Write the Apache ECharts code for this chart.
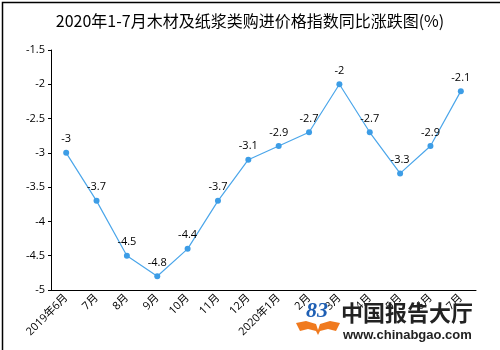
<!DOCTYPE html>
<html>
<head>
<meta charset="utf-8">
<script src="https://cdn.jsdelivr.net/npm/echarts@6/dist/echarts.min.js"></script>
<style>
html,body{margin:0;padding:0;background:#fff;}
#chart{width:500px;height:350px;}
</style>
</head>
<body>
<div id="chart"></div>
<script>
// Month labels along the category axis
var months = ['2019年6月','7月','8月','9月','10月','11月','12月','2020年1月','2月','3月','4月','5月','6月','7月'];
// Year-on-year change of the purchase price index, wood & pulp (%)
var changes = [-3, -3.7, -4.5, -4.8, -4.4, -3.7, -3.1, -2.9, -2.7, -2, -2.7, -3.3, -2.9, -2.1];
// Value axis range
var yMin = -5, yMax = -1.5, yStep = 0.5;

var font = '"Segoe UI","Open Sans","Noto Sans CJK SC",sans-serif';
var chart = echarts.init(document.getElementById('chart'));
chart.setOption({
  backgroundColor: '#fff',
  animation: false,
  title: {
    text: '2020年1-7月木材及纸浆类购进价格指数同比涨跌图(%)',
    left: 'center',
    top: 8,
    textStyle: { fontSize: 16, fontWeight: 'normal', color: '#000', fontFamily: '"Noto Sans CJK SC",sans-serif' }
  },
  grid: { left: 51, right: 24, top: 50, bottom: 60 },
  xAxis: {
    type: 'category',
    data: months,
    boundaryGap: true,
    axisLine: { lineStyle: { color: '#000', width: 1 } },
    axisTick: { alignWithLabel: true, length: 4, lineStyle: { color: '#000' } },
    axisLabel: { rotate: 45, color: '#000', fontSize: 11, interval: 0, margin: 6, fontFamily: font }
  },
  yAxis: {
    type: 'value',
    min: yMin, max: yMax, interval: yStep,
    axisLine: { show: true, lineStyle: { color: '#000', width: 1 } },
    axisTick: { show: true, length: 3, lineStyle: { color: '#000' } },
    splitLine: { show: false },
    axisLabel: { color: '#000', fontSize: 11, margin: 6, fontFamily: font }
  },
  series: [{
    type: 'line',
    data: changes,
    symbol: 'circle',
    symbolSize: 6,
    lineStyle: { color: '#4BA6EA', width: 1.2 },
    itemStyle: { color: '#3D9DE6' },
    label: { show: true, position: 'top', distance: 5, color: '#000', fontSize: 11, fontFamily: font }
  }],
  graphic: [
    { type: 'rect', left: 0, top: 0, z: 100,
      shape: { x: 0.5, y: 0.5, width: 499, height: 349 },
      style: { fill: 'none', stroke: '#000', lineWidth: 1.5 } },
    // site logo: orange open book with blue mark
    { type: 'polygon', z: 100,
      shape: { points: [[296,323],[306,321],[316,324],[318,330],[320,324],[330,321],[340,323],[336,331],[328,329],[320,331],[318,335],[316,331],[308,329],[300,331]] },
      style: { fill: '#F07A1E' } },
    { type: 'text', left: 306, top: 300, z: 100,
      style: { text: '83', fontSize: 22, fontWeight: 'bold', fontStyle: 'italic', fill: '#1E5FB4', fontFamily: 'serif' } },
    { type: 'text', left: 341, top: 302, z: 100,
      style: { text: '中国报告大厅', fontSize: 22, fontWeight: 'bold', fill: '#222', fontFamily: '"Noto Sans CJK SC",sans-serif' } },
    { type: 'text', left: 343, top: 329, z: 100,
      style: { text: 'www.chinabgao.com', fontSize: 13, fontWeight: 'bold', fill: '#222', fontFamily: '"Liberation Sans",Arial,sans-serif' } }
  ]
});
</script>
</body>
</html>
